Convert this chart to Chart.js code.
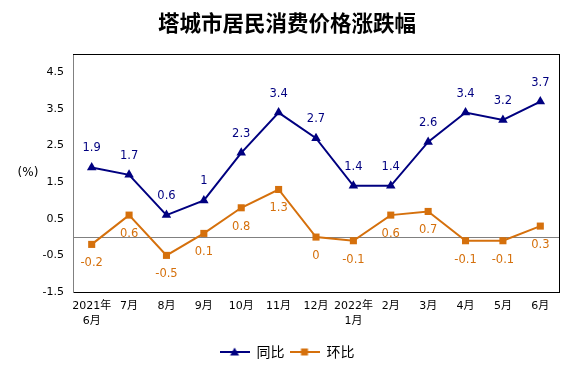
<!DOCTYPE html>
<html>
<head>
<meta charset="utf-8">
<script src="https://cdn.jsdelivr.net/npm/chart.js@4/dist/chart.umd.min.js"></script>
<style>
html,body{margin:0;padding:0;background:#fff;}
#wrap{width:574px;height:374px;}
</style>
</head>
<body>
<div id="wrap"><canvas id="c" width="574" height="374"></canvas></div>
<script>
const titleText = '塔城市居民消费价格涨跌幅';
const categories = [['2021年','6月'],'7月','8月','9月','10月','11月','12月',['2022年','1月'],'2月','3月','4月','5月','6月'];
const seriesNames = ['同比','环比'];
const yoyValues = [1.9,1.7,0.6,1,2.3,3.4,2.7,1.4,1.4,2.6,3.4,3.2,3.7];
const momValues = [-0.2,0.6,-0.5,0.1,0.8,1.3,0,-0.1,0.6,0.7,-0.1,-0.1,0.3];
const yTickValues = [-1.5,-0.5,0.5,1.5,2.5,3.5,4.5];
const yMin = -1.5, yMax = 5;
const unitLabel = '(%)';

const NAVY = '#000080';
const ORANGE = '#D5700C';
const NUMFONT = '"DejaVu Sans", "Noto Sans CJK SC", sans-serif';
const CJKFONT = '"Noto Sans CJK SC", sans-serif';

function legendIcon(color, style) {
  const cv = document.createElement('canvas');
  cv.width = 30; cv.height = 12;
  const g = cv.getContext('2d');
  g.strokeStyle = color; g.lineWidth = 2;
  g.beginPath(); g.moveTo(0, 6); g.lineTo(30, 6); g.stroke();
  g.fillStyle = color;
  g.beginPath();
  if (style === 'triangle') {
    g.moveTo(15, 1.5); g.lineTo(19.5, 9.5); g.lineTo(10.5, 9.5); g.closePath();
  } else {
    g.rect(11.5, 2.5, 7, 7);
  }
  g.fill();
  return cv;
}

const extras = {
  id: 'extras',
  beforeDatasetsDraw(chart) {
    const {ctx, chartArea: a, scales} = chart;
    const y0 = Math.round(scales.y.getPixelForValue(0)) + 0.5;
    ctx.save();
    ctx.strokeStyle = '#808080'; ctx.lineWidth = 1;
    ctx.beginPath(); ctx.moveTo(a.left, y0); ctx.lineTo(a.right, y0); ctx.stroke();
    ctx.strokeStyle = '#000';
    ctx.beginPath(); ctx.moveTo(a.left, Math.round(a.top) + 0.5); ctx.lineTo(a.right + 1, Math.round(a.top) + 0.5); ctx.stroke();
    ctx.restore();
  },
  afterDatasetsDraw(chart) {
    const {ctx} = chart;
    ctx.save();
    ctx.font = '11.5px ' + NUMFONT;
    ctx.textAlign = 'center'; ctx.textBaseline = 'middle';
    chart.data.datasets.forEach((ds, i) => {
      const meta = chart.getDatasetMeta(i);
      ctx.fillStyle = ds.borderColor;
      meta.data.forEach((pt, j) => {
        const dy = i === 0 ? -19 : 19;
        ctx.fillText(String(ds.data[j]), pt.x, pt.y + dy);
      });
    });
    ctx.fillStyle = '#000';
    ctx.font = '12px ' + NUMFONT;
    ctx.fillText(unitLabel, 28, 173);
    ctx.restore();
  }
};

new Chart(document.getElementById('c'), {
  type: 'line',
  data: {
    labels: categories,
    datasets: [
      { label: seriesNames[0], data: yoyValues, borderColor: NAVY, backgroundColor: NAVY,
        borderWidth: 2, pointStyle: 'triangle', pointRadius: 5.5, pointBorderWidth: 0, tension: 0,
        iconImg: legendIcon(NAVY, 'triangle') },
      { label: seriesNames[1], data: momValues, borderColor: ORANGE, backgroundColor: ORANGE,
        borderWidth: 2, pointStyle: 'rect', pointRadius: 5, pointBorderWidth: 0, tension: 0,
        iconImg: legendIcon(ORANGE, 'rect') }
    ]
  },
  options: {
    responsive: false,
    animation: false,
    devicePixelRatio: 1,
    layout: { padding: { left: 0, right: 0, top: 0, bottom: 5 } },
    plugins: {
      title: {
        display: true, text: titleText, color: '#000',
        font: { family: CJKFONT, size: 21.5, weight: 'bold', lineHeight: 1.2 },
        padding: { top: 10, bottom: 18.2 }
      },
      legend: {
        display: true, position: 'bottom',
        labels: {
          usePointStyle: true, pointStyleWidth: 30, boxHeight: 14,
          color: '#000', padding: 5,
          font: { family: CJKFONT, size: 14 },
          generateLabels(chart) {
            return chart.data.datasets.map((ds, i) => ({
              text: ds.label, fillStyle: ds.borderColor, strokeStyle: ds.borderColor,
              fontColor: '#000', lineWidth: 0, pointStyle: ds.iconImg, hidden: false, datasetIndex: i
            }));
          }
        }
      },
      tooltip: { enabled: false }
    },
    scales: {
      x: {
        offset: true,
        grid: { display: false, drawTicks: false },
        border: { display: true, color: '#000', width: 1 },
        ticks: { color: '#000', padding: 7, maxRotation: 0, autoSkip: false,
          font: { family: NUMFONT, size: 11, lineHeight: 1.35 } },
        afterFit(s) { s.height = 48; }
      },
      y: {
        min: yMin, max: yMax,
        grid: { display: false, drawTicks: false },
        border: { display: true, color: '#808080', width: 1 },
        ticks: { color: '#000', padding: 9, font: { family: NUMFONT, size: 11 },
          callback: (v) => String(v) },
        afterBuildTicks(s) { s.ticks = yTickValues.map(v => ({ value: v })); },
        afterFit(s) { s.width = 73; }
      },
      y2: {
        position: 'right', display: true, min: 0, max: 1,
        grid: { display: false, drawTicks: false },
        border: { display: true, color: '#000', width: 1 },
        ticks: { display: false },
        afterFit(s) { s.width = 15; }
      }
    }
  },
  plugins: [extras]
});
</script>
</body>
</html>
